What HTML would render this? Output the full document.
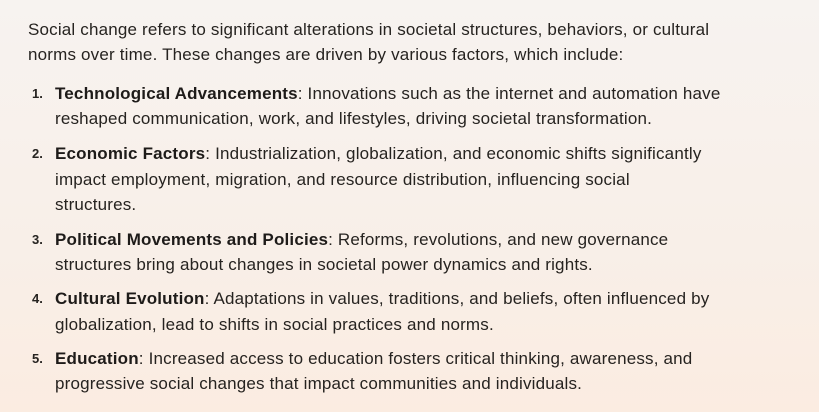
<!DOCTYPE html>
<html><head><meta charset="utf-8"><style>
html,body{margin:0;padding:0}
body{width:819px;height:412px;overflow:hidden;background:linear-gradient(180deg,#f7f3f0 0%,#f8efe8 60%,#fbece1 100%);font-family:"Liberation Sans",sans-serif;color:#262320;font-size:17px;letter-spacing:0.18px}
.l{position:absolute;white-space:nowrap;line-height:20px}
.n{position:absolute;font-weight:bold;font-size:13px;line-height:20px;letter-spacing:0}
b{font-weight:bold;color:#1e1b19}
</style></head><body>
<div>
<div class="l" style="left:28px;top:20px">Social change refers to significant alterations in societal structures, behaviors, or cultural</div>
<div class="l" style="left:28px;top:45px">norms over time. These changes are driven by various factors, which include:</div>
</div>
<div>
<div>
<div class="n" style="left:32px;top:84px">1.</div>
<div class="l" style="left:55px;top:84px"><b>Technological Advancements</b>: Innovations such as the internet and automation have</div>
<div class="l" style="left:55px;top:109px">reshaped communication, work, and lifestyles, driving societal transformation.</div>
</div>
<div>
<div class="n" style="left:32px;top:144px">2.</div>
<div class="l" style="left:55px;top:144px"><b>Economic Factors</b>: Industrialization, globalization, and economic shifts significantly</div>
<div class="l" style="left:55px;top:170px">impact employment, migration, and resource distribution, influencing social</div>
<div class="l" style="left:55px;top:195px">structures.</div>
</div>
<div>
<div class="n" style="left:32px;top:230px">3.</div>
<div class="l" style="left:55px;top:230px"><b>Political Movements and Policies</b>: Reforms, revolutions, and new governance</div>
<div class="l" style="left:55px;top:255px">structures bring about changes in societal power dynamics and rights.</div>
</div>
<div>
<div class="n" style="left:32px;top:289px">4.</div>
<div class="l" style="left:55px;top:289px"><b>Cultural Evolution</b>: Adaptations in values, traditions, and beliefs, often influenced by</div>
<div class="l" style="left:55px;top:315px">globalization, lead to shifts in social practices and norms.</div>
</div>
<div>
<div class="n" style="left:32px;top:349px">5.</div>
<div class="l" style="left:55px;top:349px"><b>Education</b>: Increased access to education fosters critical thinking, awareness, and</div>
<div class="l" style="left:55px;top:374px">progressive social changes that impact communities and individuals.</div>
</div>
</div>
</body></html>
